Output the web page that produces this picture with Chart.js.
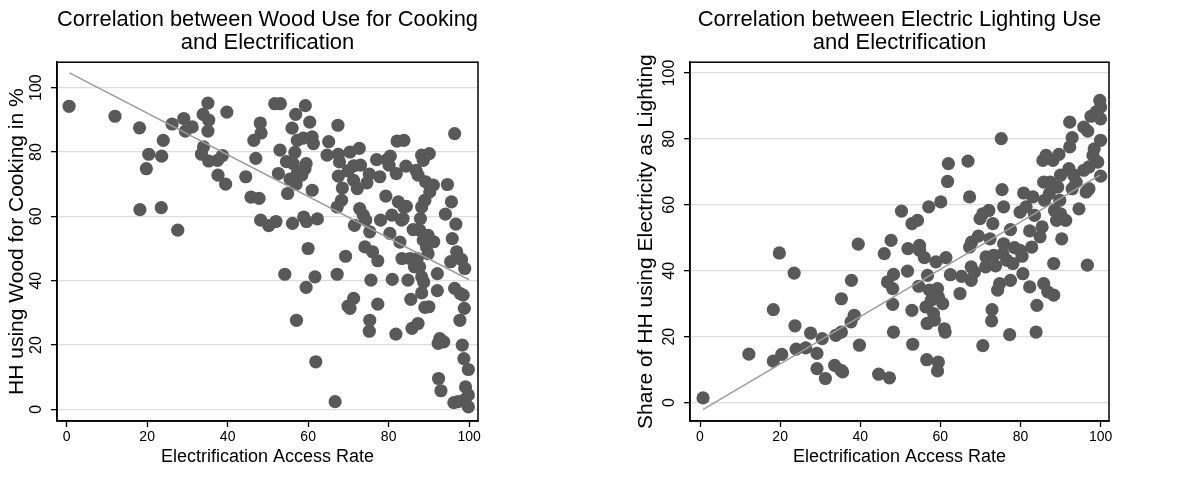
<!DOCTYPE html>
<html>
<head>
<meta charset="utf-8">
<script src="https://cdn.jsdelivr.net/npm/chart.js@4.4.1/dist/chart.umd.min.js"></script>
<style>
  body { margin: 0; background: #fff; }
  .panel { position: absolute; top: 0; width: 596px; height: 477px; }
</style>
</head>
<body>
<div class="panel" style="left:0"><canvas id="wood" width="596" height="477"></canvas></div>
<div class="panel" style="left:596px"><canvas id="light" width="596" height="477"></canvas></div>
<script>
// left panel: access rate vs. share cooking with wood
var woodX = [0.6, 12, 18.1, 18.2, 20.4, 19.8, 23.6, 24, 23.5, 26.2, 27.6, 29.1, 29.5, 31.2, 33.9, 35.1, 34, 33.5, 35.3, 35.1,
  35.3, 37.5, 38.7, 37.6, 39.5, 39.8, 44.5, 45.8, 47.8, 46.5, 47, 48.1, 48.3, 48.2, 50.2, 52, 51.7, 53.1, 53, 52.6,
  54.2, 54.6, 54.9, 56, 56.9, 56.1, 57.1, 56.7, 56.3, 57.3, 55.5, 57, 57.3, 58.4, 58.8, 59.3, 59.5, 59.2, 58.9, 59.6,
  60, 59.5, 60.4, 61, 61.3, 61, 62.3, 61.7, 61.9, 65.1, 64.7, 66.7, 67.2, 67.4, 67.5, 67.8, 67.5, 68.5, 68.3, 67.2,
  69.3, 69.9, 70.4, 71.3, 70.4, 69.9, 71.3, 71.3, 72.2, 71.5, 72.7, 73, 72.8, 73.7, 74.3, 74.1, 74.6, 75.2, 75.3, 75.3,
  75.2, 75.6, 76, 77.3, 77.3, 77, 77.8, 78, 79.3, 79.6, 80.4, 80.1, 80.3, 80.9, 80.8, 81.9, 82.1, 81.8, 82.8, 82.4,
  83.2, 83.8, 83.8, 83.6, 83.3, 84.3, 84.4, 84.8, 85.3, 85.5, 85.8, 86.1, 86.8, 86.4, 87.7, 87.1, 87.3, 87.9, 87.7, 87.3,
  88.2, 88.2, 88.6, 88.2, 88.7, 88.2, 88.6, 89.2, 89, 89.8, 89.8, 89.4, 89, 90, 90.1, 90.2, 91.1, 91.2, 92.1, 92.1,
  92.7, 92.3, 92.4, 93, 93.7, 94.6, 94.1, 95.6, 95.8, 95.4, 96.4, 96.7, 96.9, 96.4, 96.2, 97.3, 98.1, 97.8, 98.5, 98.9,
  98.8, 97.7, 98.3, 98.7, 99.8, 99.1, 99.8, 99.8, 99];
var woodY = [94.2, 91.1, 87.5, 62.1, 79.3, 74.8, 78.7, 83.6, 62.7, 88.7, 55.7, 90.4, 86.5, 87.8, 91.7, 95.2, 81.6, 79.3, 89.9, 86.5,
  77.2, 77.4, 78.9, 72.8, 70, 92.4, 72.3, 66, 65.6, 83.6, 78, 89, 85.9, 58.8, 57.1, 58.4, 95, 95, 80.6, 73.3,
  42, 77, 67.1, 87.4, 91.7, 57.8, 27.7, 79.9, 76.4, 83.6, 71.6, 70, 73.3, 72.8, 84.3, 94.4, 76.4, 74.8, 59.8, 58.4,
  50, 37.9, 89.3, 84.7, 82.6, 68.1, 59.2, 41.2, 14.8, 83.2, 79, 2.4, 42, 88.3, 79.3, 76.9, 72.5, 68.8, 65, 62.9,
  47.6, 32.1, 31.4, 34.5, 80, 74.1, 75.7, 71.2, 68.6, 57.2, 81.1, 75.9, 62.4, 60.4, 58.8, 50.5, 70.4, 73.1, 55.2, 27.7,
  24.3, 40.2, 49, 46.2, 32.7, 77.6, 72.3, 58.8, 66.3, 77.6, 78.7, 75.9, 54.7, 40.4, 60.4, 73.3, 83.4, 23.4, 52, 64.5,
  58.8, 83.6, 62.9, 59.3, 46.9, 75.6, 63.1, 40.2, 46.9, 34.2, 25.2, 55.9, 74.3, 44.3, 44.3, 46.9, 26.7, 59.3, 55.7, 72.8,
  62.9, 79, 77.4, 41.2, 39.6, 36.2, 52.6, 70.7, 65, 54.1, 48.4, 50.5, 31.7, 31.9, 79.5, 67.6, 69.7, 52.1, 36.9, 42.2,
  22, 20.5, 9.6, 5.8, 21, 69.9, 60.7, 64.5, 53.1, 45.9, 85.7, 57.6, 49, 37.6, 2.1, 2.4, 46.6, 36, 35.5, 43.8,
  31.4, 27.7, 20, 15.8, 12.4, 7, 4.5, 0.8, 3.1];
var woodFitX = [0.7, 100];
var woodFitY = [104.6, 40.3];

// right panel: access rate vs. share lighting with electricity
var lightX = [0.75, 12.2, 18.3, 18.3, 19.8, 20.4, 23.5, 23.7, 24, 26.4, 27.6, 29.2, 29.2, 30.5, 31.3, 33.6, 33.9, 35.3, 35.2, 35.6,
  35.3, 37.7, 38.5, 37.8, 39.5, 39.8, 44.6, 47.3, 46, 47.7, 46.8, 48.3, 48.1, 48.1, 48.3, 50.3, 51.9, 51.8, 52.9, 52.9,
  53.1, 54.3, 54.8, 54.8, 54.6, 56, 57.1, 56.8, 56.4, 56.7, 56.6, 57.3, 57.7, 58.3, 58.5, 58.9, 59.3, 59.5, 59.5, 59.3,
  60.1, 60.6, 61, 61.2, 61.4, 61.8, 62, 62.5, 64.9, 65.3, 66.9, 67.3, 67.3, 67.8, 67.7, 67.7, 68.5, 69.5, 69.9, 70.6,
  70.6, 71.3, 71.4, 72.1, 72.4, 73.1, 72.9, 72.8, 73.3, 73.8, 74.3, 74.8, 75.2, 75.4, 75.8, 75.8, 75.6, 76.6, 77.5, 77.5,
  77.3, 78.1, 78.5, 79.9, 80.4, 80.6, 79.9, 80.8, 81.4, 82.3, 82.3, 82.8, 83.1, 83.5, 83.9, 84.1, 84.9, 85.4, 85.6, 85.8,
  86, 86.4, 86.8, 85.8, 87.2, 87.4, 88.1, 88.3, 88.3, 88.5, 89, 89.6, 90, 89.8, 90, 90.3, 89.3, 91.3, 92.3, 92.3,
  92.9, 92.1, 92.9, 93.3, 94.6, 93.9, 95.8, 96.8, 96.7, 96.4, 97.1, 95.8, 97.1, 97.6, 98.1, 98.4, 98.9, 99.3, 99.8, 100,
  100, 100, 100];
var lightY = [1.4, 14.7, 28.2, 12.6, 45.4, 14.6, 39.3, 23.3, 16.2, 16.6, 21.1, 14.9, 10.3, 19.4, 7.3, 11.3, 20.4, 21.4, 9.8, 9.3,
  31.5, 24.5, 26.5, 37.1, 48.1, 17.4, 8.6, 7.5, 45.2, 49.2, 36.6, 38.9, 34.6, 29.8, 21.4, 58.1, 46.7, 39.9, 54.3, 28,
  17.7, 55.3, 47.7, 46.2, 35.3, 44, 59.4, 38.6, 29, 24, 13, 34.1, 31, 27, 25, 42.7, 34.6, 32.1, 12.3, 9.6,
  60.9, 30, 22.4, 21.4, 44, 67.1, 72.5, 38.8, 33.1, 38.3, 73.3, 62.4, 47.2, 48.7, 41.2, 37.1, 39.6, 50.5, 55.8, 57.3,
  17.3, 41.2, 44.2, 58.3, 49.7, 54.3, 28.2, 24.8, 44.7, 41.5, 34.1, 36.1, 80.1, 64.6, 59.4, 48.2, 45.2, 43.2, 52.5, 37.1,
  20.6, 42.2, 47, 46.2, 44.4, 39.1, 57.8, 63.6, 59.4, 52.1, 35.1, 47.2, 62.4, 56.8, 21.4, 29.5, 50.3, 53.3, 73.5, 36.1,
  61.4, 75, 33.6, 66.9, 63.4, 66.9, 73.5, 32.6, 42.2, 58.3, 55.3, 75.3, 69, 61.4, 57.3, 49.7, 65.4, 55.3, 85.1, 77.6,
  80.4, 71, 64.9, 69, 58.8, 66.9, 83.6, 82.4, 41.7, 63.9, 64.9, 70.5, 71.5, 86.9, 75, 77, 88.2, 73, 91.7, 89.7,
  86.1, 79.6, 68.7];
var lightFitX = [0.8, 99.8];
var lightFitY = [-2.1, 69.0];

var axisTicks = [0, 20, 40, 60, 80, 100];

function pts(xs, ys) {
  return xs.map(function(x, i) { return {x: x, y: ys[i]}; });
}

var frame = {
  id: 'frame',
  afterDraw: function(chart) {
    var a = chart.chartArea, ctx = chart.ctx;
    ctx.save();
    ctx.strokeStyle = '#000';
    ctx.lineWidth = 1.5;
    ctx.strokeRect(a.left, a.top, a.right - a.left, a.bottom - a.top);
    ctx.restore();
  }
};

function makeChart(id, cfg) {
  var fam = '"Liberation Sans", Arial, sans-serif';
  return new Chart(document.getElementById(id), {
    type: 'scatter',
    data: {
      datasets: [
        {
          data: pts(cfg.fitX, cfg.fitY),
          type: 'line',
          showLine: true,
          borderColor: '#9c9c9c',
          borderWidth: 1.5,
          pointRadius: 0,
          order: 0
        },
        {
          data: pts(cfg.x, cfg.y),
          pointRadius: 6.6,
          pointBackgroundColor: '#595959',
          pointBorderWidth: 0,
          order: 1
        }
      ]
    },
    options: {
      responsive: false,
      animation: false,
      layout: { padding: { left: 0, right: cfg.padRight, top: 2, bottom: 0 } },
      plugins: {
        legend: { display: false },
        tooltip: { enabled: false },
        title: {
          display: true,
          fullSize: false,
          text: cfg.title,
          color: '#000',
          font: { family: fam, size: 22, weight: 'normal', lineHeight: 1.05 },
          padding: { top: 6, bottom: 8 }
        }
      },
      scales: {
        x: {
          type: 'linear',
          min: cfg.xMin, max: cfg.xMax,
          afterBuildTicks: function(s) { s.ticks = axisTicks.map(function(v) { return {value: v}; }); },
          afterFit: function(s) { s.height = 56; },
          grid: { drawOnChartArea: false, tickLength: 6, tickColor: '#000', tickWidth: 1.3 },
          border: { color: '#000', width: 1.5 },
          ticks: { color: '#000', padding: 2, maxRotation: 0, font: { family: fam, size: 14 } },
          title: {
            display: true, text: 'Electrification Access Rate', color: '#000',
            font: { family: fam, size: 18 }, padding: { top: 0, bottom: 9 }
          }
        },
        y: {
          type: 'linear',
          min: cfg.yMin, max: cfg.yMax,
          afterBuildTicks: function(s) { s.ticks = axisTicks.map(function(v) { return {value: v}; }); },
          afterFit: function(s) { s.width = cfg.yWidth; },
          grid: { color: '#dedede', lineWidth: 1.3, tickLength: 6, tickColor: '#000', tickWidth: 1.3 },
          border: { color: '#000', width: 1.5 },
          ticks: {
            color: '#000', padding: 1, minRotation: 90, maxRotation: 90,
            crossAlign: 'center', font: { family: fam, size: 16 }
          },
          title: {
            display: true, text: cfg.yTitle, color: '#000',
            font: { family: fam, size: 21 }, padding: { top: cfg.yTitlePad, bottom: 0 }
          }
        }
      }
    },
    plugins: [frame]
  });
}

makeChart('wood', {
  x: woodX, y: woodY, fitX: woodFitX, fitY: woodFitY,
  title: ['Correlation between Wood Use for Cooking', 'and Electrification'],
  yTitle: 'HH using Wood for Cooking in %',
  xMin: -2.4, xMax: 102.2, yMin: -3.6, yMax: 107.9,
  padRight: 118, yWidth: 57, yTitlePad: 5
});

makeChart('light', {
  x: lightX, y: lightY, fitX: lightFitX, fitY: lightFitY,
  title: ['Correlation between Electric Lighting Use', 'and Electrification'],
  yTitle: 'Share of HH using Electricity as Lighting',
  xMin: -2.5, xMax: 102.1, yMin: -5.6, yMax: 103.3,
  padRight: 83, yWidth: 94, yTitlePad: 38
});
</script>
</body>
</html>
